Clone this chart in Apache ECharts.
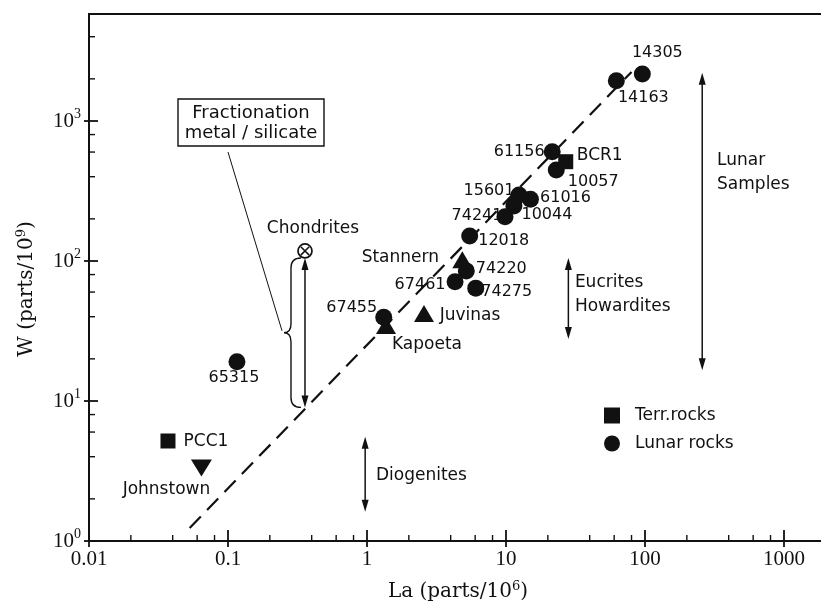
<!DOCTYPE html>
<html><head><meta charset="utf-8">
<script src="https://cdn.jsdelivr.net/npm/echarts@6/dist/echarts.min.js"></script>
<style>html,body{margin:0;padding:0;background:#fff}#c{width:821px;height:607px}</style>
</head><body><div id="c"></div>
<script>
// ---------- data ----------
const lunarNames = ['14305','14163','61156','10057','15601','61016','74241','10044','12018','74220','67461','74275','67455','65315'];
const lunarLa    = [95.7, 62.2, 21.5, 23.0, 12.4, 15.0, 9.84, 11.4, 5.48, 5.18, 4.3, 6.06, 1.32, 0.116];
const lunarW     = [2170, 1940, 604, 447, 296, 276, 207, 247, 151, 85, 71, 64, 39.6, 19.1];

const terrNames = ['BCR1','PCC1'];
const terrLa    = [26.9, 0.037];
const terrW     = [512, 5.18];

const eucriteNames = ['Stannern','Juvinas','Kapoeta'];
const eucriteLa    = [4.85, 2.57, 1.37];
const eucriteW     = [102, 42.2, 34.6];

const diogeniteNames = ['Johnstown'];
const diogeniteLa    = [0.0644];
const diogeniteW     = [3.32];

const chondriteNames = ['Chondrites'];
const chondriteLa    = [0.358];
const chondriteW     = [118];

const trendLa = [0.053, 80];
const trendW  = [1.24, 2240];

const rangeLa      = [0.358, 258, 28.1, 0.97];
const rangeWTop    = [105, 2214, 105, 5.56];
const rangeWBottom = [9.0, 16.6, 27.7, 1.62];

const noteTexts = ['Lunar\nSamples', 'Eucrites\nHowardites', 'Diogenites'];
const noteLa    = [330, 31.3, 1.16];
const noteW     = [425, 58, 2.91];

const fractionationAnchorLa = 0.1;
const fractionationAnchorW  = 600;

const xTickValues = [0.01, 0.1, 1, 10, 100, 1000, 10000];
const xTickLabels = ['0.01', '0.1', '1', '10', '100', '1000', ''];
const yTickValues = [1, 10, 100, 1000];
const yTickExponents = ['0', '1', '2', '3'];
const minorMultipliers = [2, 4, 6, 8];

// ---------- styling / layout (not data) ----------
const labelOffsets = {
  '14305':[15,-21], '14163':[27,17], '61156':[-33,0], '10057':[37,12], '15601':[-30,-4],
  '61016':[35,-1], '74241':[-28,-1], '10044':[33,9], '12018':[34,5], '74220':[35,-2],
  '67461':[-35,3], '74275':[31,4], '67455':[-32,-9], '65315':[-3,16],
  'BCR1':[34,-6], 'PCC1':[38,1], 'Stannern':[-62,-2], 'Juvinas':[46,2], 'Kapoeta':[41,19],
  'Johnstown':[-35,22], 'Chondrites':[8,-22]
};
const INK = '#111';
const SANS = 'DejaVu Sans';
const SERIF_TICK = 'Liberation Serif';
const SERIF_NAME = 'DejaVu Serif';
const Y_MAX = Math.pow(10, 527 / 140);

function pointItems(names, xs, ys) {
  return names.map((n, i) => {
    const isNum = /^\d+$/.test(n);
    return {
      name: n, value: [xs[i], ys[i]],
      label: { offset: labelOffsets[n] || [0, 0], fontSize: isNum ? 16 : 17 }
    };
  });
}
const baseLabel = { show: true, position: 'inside', formatter: p => p.name, fontFamily: SANS, color: INK };

// tick marks
const tickData = [];
xTickValues.forEach(v => {
  tickData.push([v, 1, 0]);
  minorMultipliers.forEach(m => tickData.push([v * m, 1, 1]));
});
yTickValues.forEach(v => {
  tickData.push([0.01, v, 2]);
  minorMultipliers.forEach(m => { if (v * m < Y_MAX) tickData.push([0.01, v * m, 3]); });
});

const chart = echarts.init(document.getElementById('c'), null, { renderer: 'canvas' });
chart.setOption({
  backgroundColor: '#fff',
  animation: false,
  grid: { left: 89, top: 14, width: 834, height: 527, outerBoundsMode: 'none', containLabel: false,
    show: true, borderColor: INK, borderWidth: 2, backgroundColor: 'transparent' },
  xAxis: {
    type: 'log', logBase: 10, min: 0.01, max: 10000, splitNumber: 6,
    axisLine: { show: true, onZero: false, lineStyle: { color: INK, width: 2 } },
    axisTick: { show: false }, splitLine: { show: false }, minorTick: { show: false },
    axisLabel: {
      margin: 8, color: INK, fontFamily: SERIF_TICK, fontSize: 21,
      formatter: v => {
        const i = xTickValues.findIndex(t => Math.abs(Math.log10(t) - Math.log10(v)) < 1e-6);
        return i >= 0 ? xTickLabels[i] : '';
      }
    }
  },
  yAxis: {
    type: 'log', logBase: 10, min: 1, max: Y_MAX, splitNumber: 4,
    axisLine: { show: true, onZero: false, lineStyle: { color: INK, width: 2 } },
    axisTick: { show: false }, splitLine: { show: false }, minorTick: { show: false },
    axisLabel: {
      margin: 8, color: INK,
      formatter: v => {
        const i = yTickValues.findIndex(t => Math.abs(Math.log10(t) - Math.log10(v)) < 1e-6);
        return i >= 0 ? '{b|10}{s|' + yTickExponents[i] + '}' : '';
      },
      rich: {
        b: { fontFamily: SERIF_TICK, fontSize: 21, color: INK },
        s: { fontFamily: SERIF_TICK, fontSize: 14, color: INK, padding: [0, 0, 14, 0] }
      }
    }
  },
  legend: {
    data: ['Terr.rocks', 'Lunar rocks'], orient: 'vertical', left: 604, top: 407, padding: 0,
    itemWidth: 16, itemHeight: 16, itemGap: 11, selectedMode: false,
    textStyle: { fontFamily: SANS, fontSize: 17, color: INK, padding: [0, 0, 0, 10] }
  },
  graphic: [
    { type: 'rect', shape: { x: 178, y: 99, width: 146, height: 47 }, style: { fill: '#fff', stroke: INK, lineWidth: 1.4 }, z: 50 },
    { type: 'text', x: 251, y: 123, z: 51, style: { text: 'Fractionation\nmetal / silicate', fontFamily: SANS, fontSize: 18, lineHeight: 20, fill: INK, align: 'center', verticalAlign: 'middle' } },
    { type: 'text', x: 458, y: 592, style: { text: '{n|La (parts/10}{s|6}{n|)}', align: 'center', verticalAlign: 'middle',
      rich: { n: { fontFamily: SERIF_NAME, fontSize: 20, fill: INK }, s: { fontFamily: SERIF_NAME, fontSize: 13, fill: INK, padding: [0, 0, 10, 0] } } } },
    { type: 'text', x: 27, y: 289, rotation: Math.PI / 2, style: { text: '{n|W (parts/10}{s|9}{n|)}', align: 'center', verticalAlign: 'middle',
      rich: { n: { fontFamily: SERIF_NAME, fontSize: 20, fill: INK }, s: { fontFamily: SERIF_NAME, fontSize: 13, fill: INK, padding: [0, 0, 10, 0] } } } }
  ],
  series: [
    { // axis ticks
      type: 'custom', silent: true, clip: false, z: 5, data: tickData,
      renderItem: (params, api) => {
        const k = api.value(2);
        const p = api.coord([api.value(0), api.value(1)]);
        let s;
        if (k === 0) s = { x1: p[0], y1: p[1] - 11, x2: p[0], y2: p[1] + 6 };
        else if (k === 1) s = { x1: p[0], y1: p[1] - 6, x2: p[0], y2: p[1] };
        else if (k === 2) s = { x1: p[0] - 5, y1: p[1], x2: p[0] + 9, y2: p[1] };
        else s = { x1: p[0], y1: p[1], x2: p[0] + 6, y2: p[1] };
        return { type: 'line', shape: s, style: { stroke: INK, lineWidth: (k % 2 === 0) ? 1.8 : 1.4 } };
      }
    },
    { // dashed trend line
      type: 'line', silent: true, symbol: 'none', z: 2,
      data: trendLa.map((x, i) => [x, trendW[i]]),
      lineStyle: { color: INK, width: 2.2, type: [16, 9] }
    },
    { // range arrows
      type: 'custom', silent: true, clip: false, z: 3,
      data: rangeLa.map((x, i) => [x, rangeWTop[i], rangeWBottom[i]]),
      renderItem: (params, api) => {
        const x = api.value(0);
        const pt = api.coord([x, api.value(1)]);
        const pb = api.coord([x, api.value(2)]);
        const hw = 3.5, hh = 12;
        return { type: 'group', children: [
          { type: 'line', shape: { x1: pt[0], y1: pt[1] + hh - 2, x2: pb[0], y2: pb[1] - hh + 2 }, style: { stroke: INK, lineWidth: 1.5 } },
          { type: 'polygon', shape: { points: [[pt[0], pt[1]], [pt[0] - hw, pt[1] + hh], [pt[0] + hw, pt[1] + hh]] }, style: { fill: INK } },
          { type: 'polygon', shape: { points: [[pb[0], pb[1]], [pb[0] - hw, pb[1] - hh], [pb[0] + hw, pb[1] - hh]] }, style: { fill: INK } }
        ] };
      }
    },
    { // brace + leader line for the chondrite range
      type: 'custom', silent: true, clip: false, z: 3,
      data: [[rangeLa[0], rangeWTop[0], rangeWBottom[0], fractionationAnchorLa, fractionationAnchorW]],
      renderItem: (params, api) => {
        const pt = api.coord([api.value(0), api.value(1)]);
        const pb = api.coord([api.value(0), api.value(2)]);
        const pa = api.coord([api.value(3), api.value(4)]);
        const xr = pt[0] - 4, xs = pt[0] - 14, xc = pt[0] - 21;
        const yt = pt[1], yb = pb[1], ym = (yt + yb) / 2;
        const d = `M${xr} ${yt} Q${xs} ${yt} ${xs} ${yt + 10} L${xs} ${ym - 9} Q${xs} ${ym} ${xc} ${ym} Q${xs} ${ym} ${xs} ${ym + 9} L${xs} ${yb - 10} Q${xs} ${yb} ${xr} ${yb}`;
        return { type: 'group', children: [
          { type: 'path', shape: { pathData: d }, style: { stroke: INK, fill: null, lineWidth: 1.4 } },
          { type: 'line', shape: { x1: pa[0], y1: pa[1], x2: xc - 2, y2: ym - 2 }, style: { stroke: INK, lineWidth: 1 } }
        ] };
      }
    },
    { // annotation texts
      type: 'scatter', silent: true, symbolSize: 0, z: 4,
      itemStyle: { opacity: 1 },
      data: noteTexts.map((t, i) => ({ name: t, value: [noteLa[i], noteW[i]] })),
      label: { show: true, position: 'inside', align: 'left', verticalAlign: 'middle', formatter: p => p.name,
        fontFamily: SANS, fontSize: 17, lineHeight: 24, color: INK, opacity: 1 }
    },
    {
      name: 'Lunar rocks', type: 'scatter', symbol: 'circle', symbolSize: 17, z: 10,
      itemStyle: { color: INK, opacity: 1 }, label: baseLabel,
      data: pointItems(lunarNames, lunarLa, lunarW)
    },
    {
      name: 'Terr.rocks', type: 'scatter', symbol: 'rect', symbolSize: 15, z: 10,
      itemStyle: { color: INK, opacity: 1 }, label: baseLabel,
      data: pointItems(terrNames, terrLa, terrW)
    },
    {
      name: 'Eucrites', type: 'scatter', symbol: 'triangle', symbolSize: [20, 17], z: 10,
      itemStyle: { color: INK, opacity: 1 }, label: baseLabel,
      data: pointItems(eucriteNames, eucriteLa, eucriteW)
    },
    {
      name: 'Diogenites', type: 'scatter', symbol: 'triangle', symbolRotate: 180, symbolSize: [21, 17], z: 10,
      itemStyle: { color: INK, opacity: 1 }, label: baseLabel,
      data: pointItems(diogeniteNames, diogeniteLa, diogeniteW)
    },
    { // chondrites: circled cross
      type: 'custom', silent: true, clip: false, z: 10,
      data: chondriteNames.map((n, i) => [chondriteLa[i], chondriteW[i], i]),
      renderItem: (params, api) => {
        const p = api.coord([api.value(0), api.value(1)]);
        const n = chondriteNames[api.value(2)];
        const off = labelOffsets[n];
        const r = 7, c = 4.2;
        return { type: 'group', children: [
          { type: 'circle', shape: { cx: p[0], cy: p[1], r: r }, style: { fill: '#fff', stroke: INK, lineWidth: 1.7 } },
          { type: 'line', shape: { x1: p[0] - c, y1: p[1] - c, x2: p[0] + c, y2: p[1] + c }, style: { stroke: INK, lineWidth: 1.5 } },
          { type: 'line', shape: { x1: p[0] - c, y1: p[1] + c, x2: p[0] + c, y2: p[1] - c }, style: { stroke: INK, lineWidth: 1.5 } },
          { type: 'text', x: p[0] + off[0], y: p[1] + off[1], style: { text: n, fontFamily: SANS, fontSize: 17, fill: INK, align: 'center', verticalAlign: 'middle' } }
        ] };
      }
    }
  ]
});
</script></body></html>
